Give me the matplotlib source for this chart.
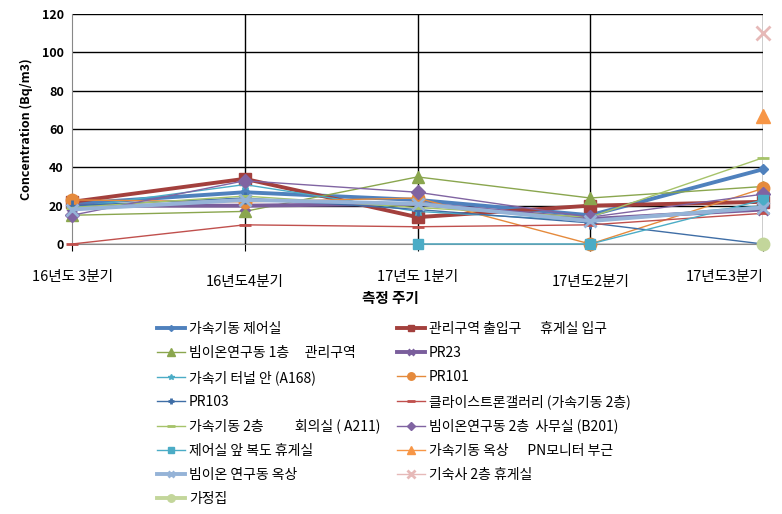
import numpy as np
import matplotlib
matplotlib.use("Agg")
import matplotlib.pyplot as plt

plt.rcParams['font.family'] = ['Noto Sans CJK KR', 'DejaVu Sans']

# 측정 주기
periods = ["16년도 3분기", "16년도4분기", "17년도 1분기", "17년도2분기", "17년도3분기"]
nan = np.nan

# 측정 지점별 농도 (Bq/m3), 그림에서 읽은 값
s_control = [21, 27, 23, 15, 39]
s_entrance = [22, 34, 14, 20, 22]
s_beam1f = [15, 17, 35, 24, 30]
s_pr23 = [20, 20, 21, 13, 18]
s_tunnel = [19, 31, 17, 12, 20]
s_pr101 = [23, 22, 24, 0, 29]
s_pr103 = [20, 24, 18, 11, 0]
s_klystron = [0, 10, 9, 10, 16]
s_meeting = [19, 25, 19, 14, 45]
s_beam2f = [15, 33, 27, 14, 26]
s_corridor = [nan, nan, 0, 0, 23]
s_roof_pn = [nan, nan, nan, nan, 67]
s_beam_roof = [18, 23, 21, 12, 19]
s_dorm = [nan, nan, nan, nan, 110]
s_house = [nan, nan, nan, nan, 0]

labels = [
    "가속기동 제어실",
    "관리구역 출입구      휴게실 입구",
    "빔이온연구동 1층     관리구역",
    "PR23",
    "가속기 터널 안 (A168)",
    "PR101",
    "PR103",
    "클라이스트론갤러리 (가속기동 2층)",
    "가속기동 2층          회의실 ( A211)",
    "빔이온연구동 2층  사무실 (B201)",
    "제어실 앞 복도 휴게실",
    "가속기동 옥상      PN모니터 부근",
    "빔이온 연구동 옥상",
    "기숙사 2층 휴게실",
    "가정집",
]
series = [s_control, s_entrance, s_beam1f, s_pr23, s_tunnel, s_pr101, s_pr103,
          s_klystron, s_meeting, s_beam2f, s_corridor, s_roof_pn, s_beam_roof,
          s_dorm, s_house]

# (color, marker, markersize, linewidth)
styles = [
    ("#4F81BD", "D", 5, 2.8),
    ("#A3403D", "s", 8, 2.8),
    ("#8AA64E", "^", 9, 1.0),
    ("#7A5E9C", "x", 7, 2.8),
    ("#4BACC6", "*", 7, 1.0),
    ("#E58A3C", "o", 9, 1.0),
    ("#3F6EA6", "+", 8, 1.0),
    ("#C0504D", "_", 9, 1.0),
    ("#A6C36A", "_", 9, 1.0),
    ("#8064A2", "D", 7, 1.0),
    ("#4BACC6", "s", 7, 1.0),
    ("#F79646", "^", 10, 1.0),
    ("#95B3D7", "x", 8, 2.8),
    ("#E6B9B8", "x", 10, 1.0),
    ("#C3D69B", "o", 9, 2.8),
]

fig = plt.figure(figsize=(7.82, 5.14), dpi=100)
ax = fig.add_axes([72 / 782, 1 - 244 / 514, (763 - 72) / 782, (244 - 14) / 514])

x = np.arange(len(periods))
handles = []
for vals, (c, m, ms, lw), lab in zip(series, styles, labels):
    mew = 2.0 if m in ("x", "+", "_") else 1.0
    h, = ax.plot(x, vals, color=c, marker=m, markersize=ms, linewidth=lw,
                 markeredgewidth=mew, label=lab, clip_on=False, zorder=3)
    handles.append(h)

ax.set_xlim(0, 4)
ax.set_ylim(0, 120)
ax.set_yticks(range(0, 121, 20))
ax.set_yticklabels([str(v) for v in range(0, 121, 20)], fontsize=9, fontweight="bold")
ax.grid(axis="y", color="black", linewidth=1.0)
for xv in x[1:]:
    ax.axvline(xv, color="black", linewidth=1.0, zorder=1)
ax.set_axisbelow(True)

ax.spines['left'].set_color("#888888")
ax.spines['bottom'].set_color("#888888")
ax.spines['top'].set_visible(False)
ax.spines['right'].set_visible(False)
ax.tick_params(axis="y", length=0, pad=6)
ax.tick_params(axis="x", length=5, color="black", pad=14)

ax.set_xticks(x)
ax.set_xticklabels(periods, fontsize=10.5)
ticklabs = ax.get_xticklabels()
for i, t in enumerate(ticklabs):
    if i in (1, 3):
        t.set_y(-0.02)
ticklabs[-1].set_ha("right")

ax.set_ylabel("Concentration (Bq/m3)", fontsize=9, fontweight="bold", labelpad=6)
ax.set_xlabel("측정 주기", fontsize=10.5, fontweight="bold", labelpad=0)
ax.xaxis.set_label_coords((390 - 72) / 691, -0.2)

# Excel 범례 순서 (행 우선) 맞추기
order = list(range(0, 15, 2)) + list(range(1, 15, 2))
fig.legend([handles[i] for i in order], [labels[i] for i in order],
           loc="upper left", bbox_to_anchor=(150 / 782, 1 - 315 / 514),
           ncol=2, frameon=False, fontsize=10, labelspacing=0.72,
           handlelength=2.0, handletextpad=0.3, columnspacing=1.2,
           borderpad=0, markerscale=0.6)

fig.savefig("out.png", dpi=100)
